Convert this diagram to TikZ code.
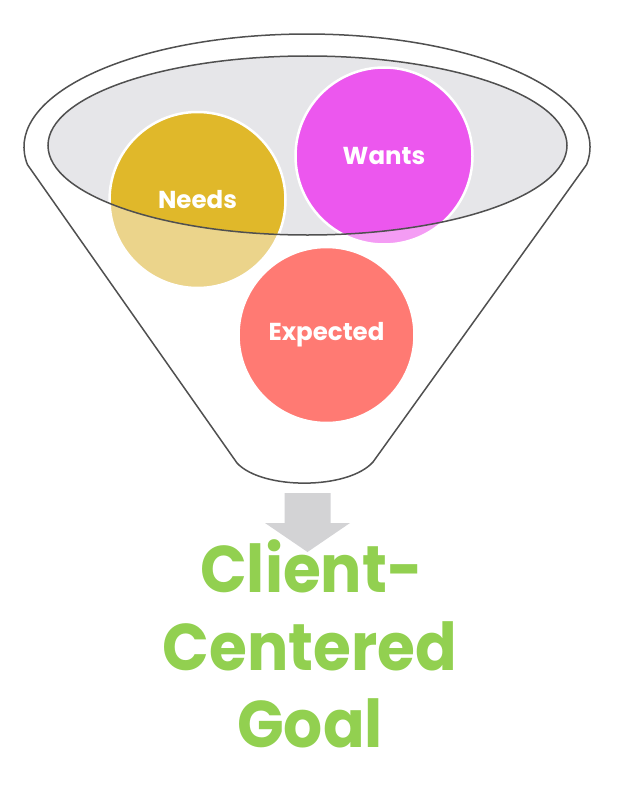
\documentclass[tikz,border=0pt]{standalone}
\usepackage{fontspec}
\usepackage{graphicx}
\setmainfont{Poppins}
\definecolor{needsc}{HTML}{E0B82A}
\definecolor{needsl}{HTML}{EBD48B}
\definecolor{wantsc}{HTML}{EC57EE}
\definecolor{wantsl}{HTML}{F49CF4}
\definecolor{expc}{HTML}{FF7A73}
\definecolor{bowl}{HTML}{E6E6E9}
\definecolor{rim}{HTML}{505050}
\definecolor{arrowc}{HTML}{D3D3D5}
\definecolor{goalc}{HTML}{92D050}
\newcommand{\goalsq}[1]{\scalebox{0.93}[1]{#1}}
\tikzset{
  ring/.style={circle, minimum size=176pt, inner sep=0pt, draw=white, line width=2.5pt,
    text=white, font=\fontsize{24.5}{28}\selectfont\bfseries},
  goaltext/.style={text=goalc, font=\fontsize{66}{77}\selectfont\bfseries, align=center, inner sep=0pt}
}
\begin{document}
\begin{tikzpicture}[x=1pt,y=1pt]
\useasboundingbox (0,0) rectangle (632,-792);
% funnel body
\draw[rim, line width=1.5pt, fill=white]
  (237,-463) -- (27.5,-164.7)
  arc[start angle=189, end angle=-9, x radius=283, y radius=113]
  -- (373,-462)
  .. controls (348,-490) and (262,-490) .. (237,-463) -- cycle;
% bowl surface
\fill[bowl] (307.5,-145.5) ellipse [x radius=259.5, y radius=89.5];
% circles: lighter parts below the surface
\fill[needsl] (197.5,-200) circle [radius=88];
\fill[wantsl] (384,-156) circle [radius=88.5];
\begin{scope}
  \clip (307.5,-145.5) ellipse [x radius=259.5, y radius=89.5];
  \fill[needsc] (197.5,-200) circle [radius=88];
  \fill[wantsc] (384,-156) circle [radius=88.5];
\end{scope}
\node[ring, fill=expc] (expected) at (326.5,-335) {Expected};
\node[ring] (needs) at (197.5,-200) {Needs};
\node[ring, minimum size=177pt] (wants) at (384,-156) {Wants};
% bowl rim line
\draw[rim, line width=1.5pt] (307.5,-145.5) ellipse [x radius=259.5, y radius=89.5];
% arrow
\coordinate (arrtop) at (307.5,-493);
\fill[arrowc] (284.5,-493) -- (330.5,-493) -- (330.5,-523) -- (350,-523)
  -- (307.5,-552) -- (265,-523) -- (284.5,-523) -- cycle;
% goal text
\node[goaltext, anchor=base] (l1) at (311.5,-592) {\goalsq{Client-}};
\node[goaltext, anchor=base] (l2) at (310,-670) {\goalsq{Centered}};
\node[goaltext, anchor=base] (l3) at (310,-747) {\goalsq{Goal}};
\end{tikzpicture}
\end{document}
